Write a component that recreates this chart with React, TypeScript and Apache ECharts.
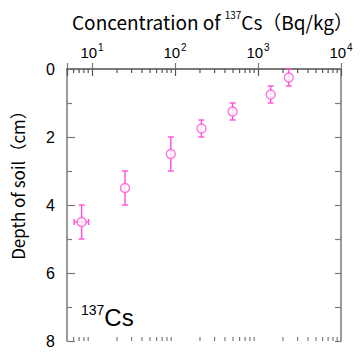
import React, { useEffect, useRef } from "react";
import * as echarts from "echarts";

const concentration = [7.5, 25, 89, 208, 495, 1420, 2350];
const depth = [4.5, 3.5, 2.5, 1.75, 1.25, 0.75, 0.25];
const concLow = [6.1, null, null, null, null, null, null];
const concHigh = [9.1, null, null, null, null, null, null];
const depthLow = [4, 3, 2, 1.5, 1, 0.5, 0];
const depthHigh = [5, 4, 3, 2, 1.5, 1, 0.5];
const minorTickValues = [6, 7, 8, 9, 20, 30, 40, 50, 60, 70, 80, 90, 200, 300, 400, 500, 600, 700, 800, 900, 2000, 3000, 4000, 5000, 6000, 7000, 8000, 9000];
const yTickLabels = [0, 2, 4, 6, 8];

const PINK = "#ff4fd8";
const AXIS = "#7a7a7a";
const TITLE_FONT = "'Noto Sans CJK JP', 'Noto Sans', sans-serif";
const NUM_FONT = "'Liberation Sans', Arial, sans-serif";

export default function App() {
  const ref = useRef<HTMLDivElement>(null);
  useEffect(() => {
    if (!ref.current) return;
    const chart = echarts.init(ref.current, null, { renderer: "svg" });
    const errData = concentration.map((c, i) => [c, depth[i], depthLow[i], depthHigh[i], concLow[i] ?? c, concHigh[i] ?? c]);
    const powLabel = (v: number) => {
      const l = Math.log10(v);
      const r = Math.round(l);
      if (Math.abs(l - r) > 1e-6) return "";
      return `{b|10}{s|${r}}`;
    };
    const logAxisBase = {
      type: "log",
      logBase: 10,
      min: 5,
      max: 10000,
      axisLine: { show: true, lineStyle: { color: "#555", width: 1.5 } },
      splitLine: { show: false },
      minorTick: { show: false },
    };
    const yBase = {
      type: "value",
      min: 0,
      max: 8,
      interval: 2,
      inverse: true,
      axisLine: { show: true, lineStyle: { color: AXIS, width: 1.5 } },
      axisTick: { show: true, inside: true, length: 8, lineStyle: { color: AXIS, width: 1.2 } },
      minorTick: { show: true, splitNumber: 2, length: 5, lineStyle: { color: AXIS, width: 1.2 } },
      splitLine: { show: false },
      minorSplitLine: { show: false },
    };
    chart.setOption({
      animation: false,
      backgroundColor: "#fff",
      grid: { left: 67, right: 19, top: 69, bottom: 19 },
      xAxis: [
        {
          ...logAxisBase,
          position: "top",
          axisTick: { show: true, inside: true, length: 7, lineStyle: { color: "#555", width: 1.2 } },
          axisLabel: {
            show: true,
            margin: 9,
            formatter: powLabel,
            rich: {
              b: { fontSize: 15, fontFamily: NUM_FONT, color: "#000", lineHeight: 18, verticalAlign: "bottom" },
              s: { fontSize: 10, fontFamily: NUM_FONT, color: "#000", lineHeight: 18, verticalAlign: "top", padding: [0, 0, 0, 1] },
            },
          },
        },
        {
          ...logAxisBase,
          position: "bottom",
          axisLine: { show: true, lineStyle: { color: AXIS, width: 1.5 } },
          axisTick: { show: true, inside: true, length: 6, lineStyle: { color: AXIS, width: 1.2 } },
          axisLabel: { show: false },
        },
      ],
      yAxis: [
        {
          ...yBase,
          position: "left",
          axisLabel: {
            show: true,
            margin: 12,
            fontSize: 16,
            fontFamily: NUM_FONT,
            color: "#000",
            formatter: (v: number) => (yTickLabels.includes(v) ? String(v) : ""),
          },
        },
        {
          ...yBase,
          position: "right",
          axisTick: { show: true, inside: true, length: 6, lineStyle: { color: AXIS, width: 1.2 } },
          minorTick: { show: true, splitNumber: 2, length: 6, lineStyle: { color: AXIS, width: 1.2 } },
          axisLabel: { show: false },
        },
      ],
      graphic: [
        {
          type: "text",
          x: 72,
          y: 21,
          style: {
            text: "Concentration of {s|137}Cs（Bq/kg）",
            fontSize: 19,
            fontFamily: TITLE_FONT,
            fill: "#000",
            verticalAlign: "middle",
            rich: {
              s: { fontSize: 10, fontFamily: TITLE_FONT, fill: "#000", verticalAlign: "top", lineHeight: 24 },
            },
          },
        },
        {
          type: "text",
          x: 17,
          y: 181,
          rotation: Math.PI / 2,
          style: {
            text: "Depth of soil（cm）",
            fontSize: 17,
            fontFamily: TITLE_FONT,
            fill: "#000",
            align: "center",
            verticalAlign: "middle",
          },
        },
        {
          type: "text",
          x: 81,
          y: 316,
          style: {
            text: "{s|137}{b|Cs}",
            fill: "#000",
            verticalAlign: "middle",
            rich: {
              s: { fontSize: 14, fontFamily: NUM_FONT, fill: "#000", verticalAlign: "top", lineHeight: 26 },
              b: { fontSize: 24, fontFamily: NUM_FONT, fill: "#000", verticalAlign: "bottom", lineHeight: 26 },
            },
          },
        },
      ],
      series: [
        {
          type: "custom",
          xAxisIndex: 0,
          yAxisIndex: 0,
          data: errData,
          silent: true,
          z: 2,
          renderItem: (params: any, api: any) => {
            const x = api.value(0);
            const y = api.value(1);
            const top = api.coord([x, api.value(2)]);
            const bot = api.coord([x, api.value(3)]);
            const left = api.coord([api.value(4), y]);
            const right = api.coord([api.value(5), y]);
            const cap = 3;
            const style = { stroke: PINK, lineWidth: 1.4, fill: "none" };
            const children: any[] = [
              { type: "line", shape: { x1: top[0], y1: top[1], x2: bot[0], y2: bot[1] }, style },
              { type: "line", shape: { x1: top[0] - cap, y1: top[1], x2: top[0] + cap, y2: top[1] }, style },
              { type: "line", shape: { x1: bot[0] - cap, y1: bot[1], x2: bot[0] + cap, y2: bot[1] }, style },
            ];
            if (right[0] - left[0] > 0.5) {
              children.push(
                { type: "line", shape: { x1: left[0], y1: left[1], x2: right[0], y2: right[1] }, style },
                { type: "line", shape: { x1: left[0], y1: left[1] - cap, x2: left[0], y2: left[1] + cap }, style },
                { type: "line", shape: { x1: right[0], y1: right[1] - cap, x2: right[0], y2: right[1] + cap }, style }
              );
            }
            return { type: "group", children };
          },
        },
        {
          type: "scatter",
          xAxisIndex: 0,
          yAxisIndex: 0,
          data: concentration.map((c, i) => [c, depth[i]]),
          symbol: "circle",
          symbolSize: 9,
          z: 3,
          itemStyle: { color: "#fff", borderColor: PINK, borderWidth: 1.4 },
        },
        {
          type: "custom",
          xAxisIndex: 0,
          yAxisIndex: 0,
          data: minorTickValues.map((v) => [v, 0]),
          silent: true,
          clip: false,
          renderItem: (params: any, api: any) => {
            const p = api.coord([api.value(0), 0]);
            const cs = params.coordSys;
            const yTop = cs.y;
            const yBot = cs.y + cs.height;
            const st = { stroke: "#555", lineWidth: 1.2 };
            const st2 = { stroke: AXIS, lineWidth: 1.2 };
            return {
              type: "group",
              children: [
                { type: "line", shape: { x1: p[0], y1: yTop, x2: p[0], y2: yTop + 4 }, style: st },
                { type: "line", shape: { x1: p[0], y1: yBot, x2: p[0], y2: yBot - 4 }, style: st2 },
              ],
            };
          },
        },
      ],
    });
    return () => chart.dispose();
  }, []);
  return <div ref={ref} style={{ width: 360, height: 360, position: "absolute", left: 0, top: 0 }} />;
}
